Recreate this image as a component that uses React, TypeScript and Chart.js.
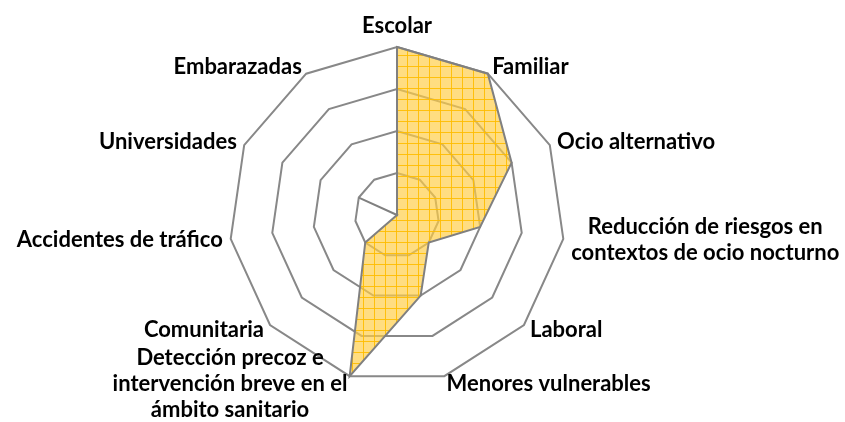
import React, { useEffect, useRef } from "react";
import { Chart, registerables } from "chart.js";

Chart.register(...registerables);

// Categories (multi-line labels as arrays of lines)
const CATEGORIES: string[][] = [
  ["Escolar"],
  ["Familiar"],
  ["Ocio alternativo"],
  ["Reducción de riesgos en", "contextos de ocio nocturno"],
  ["Laboral"],
  ["Menores vulnerables"],
  ["Detección precoz e", "intervención breve en el", "ámbito sanitario"],
  ["Comunitaria"],
  ["Accidentes de tráfico"],
  ["Universidades"],
  ["Embarazadas"],
];

const SERIES_VALUES: number[] = [4, 4, 3, 2, 1, 2, 4, 1, 0, 1, 0];

const SCALE_MIN = 0;
const SCALE_MAX = 4;
const SCALE_STEP = 1;

const LABEL_FONT = "bold 22px Lato, 'Open Sans', sans-serif";
const LABEL_LINE_H = 26;
const LABEL_GAP = 8;

function makePattern(): CanvasPattern | string {
  const c = document.createElement("canvas");
  c.width = 11;
  c.height = 11;
  const g = c.getContext("2d");
  if (!g) return "rgba(255,208,65,0.7)";
  g.fillStyle = "rgba(255,205,70,0.68)";
  g.fillRect(0, 0, 11, 11);
  g.fillStyle = "rgba(255,188,0,0.9)";
  g.fillRect(0, 0, 11, 1);
  g.fillRect(0, 0, 1, 11);
  const p = g.createPattern(c, "repeat");
  return p || "rgba(255,208,65,0.7)";
}

const excelLabels = {
  id: "excelLabels",
  afterDatasetsDraw(chart: any) {
    const scale = chart.scales.r;
    const ctx: CanvasRenderingContext2D = chart.ctx;
    ctx.save();
    ctx.font = LABEL_FONT;
    ctx.fillStyle = "#000000";
    ctx.textBaseline = "middle";
    ctx.textAlign = "center";
    const labels: string[][] = chart.data.labels;
    labels.forEach((lines, i) => {
      const p = scale.getPointPosition(i, scale.drawingArea + LABEL_GAP);
      let deg = (scale.getIndexAngle(i) * 180) / Math.PI;
      deg = ((deg % 360) + 360) % 360;
      const bw = Math.max(...lines.map((l) => ctx.measureText(l).width));
      const bh = lines.length * LABEL_LINE_H;
      let left: number;
      let top: number;
      if (deg < 1 || deg > 359) {
        left = p.x - bw / 2;
        top = p.y - bh;
      } else if (Math.abs(deg - 180) < 1) {
        left = p.x - bw / 2;
        top = p.y;
      } else if (deg < 180) {
        left = p.x;
        top = p.y - bh / 2;
      } else {
        left = p.x - bw;
        top = p.y - bh / 2;
      }
      lines.forEach((l, j) => {
        ctx.fillText(l, left + bw / 2, top + LABEL_LINE_H * (j + 0.5));
      });
    });
    ctx.restore();
  },
};

export default function App() {
  const ref = useRef<HTMLCanvasElement | null>(null);
  useEffect(() => {
    if (!ref.current) return;
    const chart = new Chart(ref.current, {
      type: "radar",
      data: {
        labels: CATEGORIES as any,
        datasets: [
          {
            label: "Serie",
            data: SERIES_VALUES,
            backgroundColor: makePattern() as any,
            borderColor: "#808080",
            borderWidth: 2,
            pointRadius: 0,
            pointHoverRadius: 0,
            fill: true,
            tension: 0,
          },
        ],
      },
      options: {
        responsive: true,
        maintainAspectRatio: false,
        animation: false,
        layout: { padding: { left: 229, right: 280, top: 47, bottom: 39 } },
        plugins: { legend: { display: false }, tooltip: { enabled: false } },
        scales: {
          r: {
            min: SCALE_MIN,
            max: SCALE_MAX,
            ticks: { stepSize: SCALE_STEP, display: false },
            pointLabels: { display: false },
            angleLines: { display: false },
            grid: { color: "#888888", lineWidth: 2, circular: false },
          },
        },
      },
      plugins: [excelLabels],
    });
    return () => chart.destroy();
  }, []);
  return (
    <div style={{ position: "absolute", left: 0, top: 0, width: 845, height: 422, background: "#fff" }}>
      <canvas ref={ref} />
    </div>
  );
}
